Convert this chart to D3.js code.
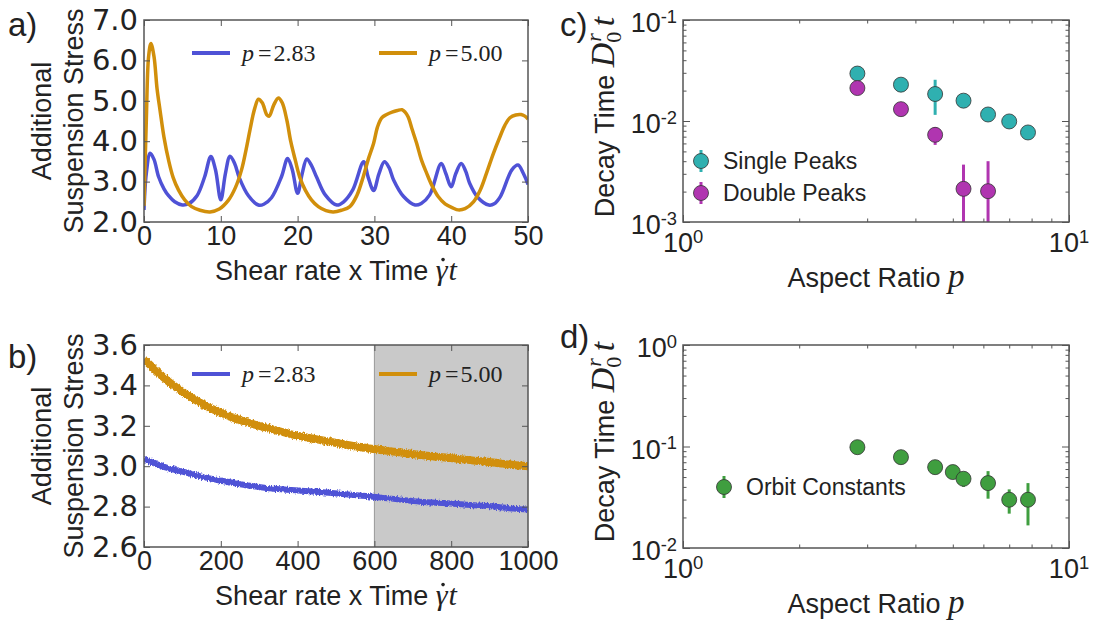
<!DOCTYPE html>
<html><head><meta charset="utf-8">
<script src="https://cdn.jsdelivr.net/npm/d3@7"></script>
<style>body{margin:0;background:#fff}svg{display:block}</style>
</head><body>
<svg id="fig" width="1095" height="626"></svg>
<script>
// ---------- DATA ----------
// Panel a: suspension stress vs shear strain (gamma-dot t)
const seriesA_p283 = [[0,2.3],[0.3,3.2],[0.8,3.70],[1.3,3.55],[1.9,3.12],[2.6,2.82],[3.2,2.65],[4.0,2.5],[5.0,2.42],[5.8,2.45],[6.9,2.65],[7.9,3.12],[8.7,3.62],[9.3,3.3],[10.0,2.55],[10.6,3.2],[11.2,3.63],[11.8,3.45],[12.4,3.1],[13.6,2.65],[14.9,2.42],[15.6,2.44],[16.6,2.6],[17.9,3.12],[18.7,3.57],[19.3,3.3],[20.0,2.71],[20.6,3.2],[21.2,3.56],[21.8,3.4],[22.5,3.1],[23.6,2.67],[25.1,2.42],[26.0,2.5],[27.2,2.8],[28.6,3.49],[29.2,3.1],[29.9,2.78],[30.6,3.2],[31.3,3.49],[31.9,3.35],[32.5,3.04],[33.8,2.63],[35.3,2.42],[36.1,2.46],[37.2,2.67],[38.7,3.45],[39.3,3.2],[40.0,2.87],[40.6,3.2],[41.3,3.45],[41.9,3.25],[42.4,2.96],[43.5,2.6],[44.9,2.42],[45.6,2.45],[46.4,2.63],[47.9,3.29],[48.7,3.41],[49.4,3.2],[50,2.93]];
const seriesA_p500 = [[0,2.4],[0.3,4.5],[0.6,6.1],[0.9,6.42],[1.3,6.1],[1.7,5.3],[2.1,4.75],[2.6,4.1],[3.2,3.53],[3.8,3.1],[4.5,2.79],[5.3,2.55],[6.2,2.38],[7.3,2.29],[8.6,2.25],[9.8,2.32],[11.0,2.54],[11.9,2.85],[12.7,3.29],[13.3,3.8],[13.8,4.28],[14.4,4.8],[14.9,5.04],[15.4,4.95],[16.0,4.65],[16.3,4.62],[16.9,4.9],[17.5,5.07],[18.0,4.95],[18.6,4.52],[19.1,4.0],[19.7,3.53],[20.3,3.1],[21.0,2.79],[21.8,2.55],[22.7,2.38],[23.7,2.28],[24.65,2.25],[25.7,2.29],[26.8,2.38],[27.7,2.65],[28.55,3.12],[29.2,3.55],[29.9,3.95],[30.4,4.35],[30.95,4.58],[31.6,4.66],[32.3,4.72],[33.0,4.76],[33.6,4.78],[34.0,4.72],[34.4,4.6],[34.9,4.3],[35.5,3.95],[36.1,3.55],[36.8,3.21],[37.5,2.9],[38.3,2.63],[39.2,2.45],[40.3,2.34],[40.9,2.3],[41.8,2.33],[42.9,2.5],[43.8,2.8],[44.6,3.21],[45.5,3.7],[46.35,4.11],[47.0,4.4],[47.65,4.58],[48.4,4.65],[49.1,4.66],[49.6,4.62],[50,4.55]];
const ticksA_x = [0,10,20,30,40,50];
const ticksA_y = [2,3,4,5,6,7];

// Panel b: long-time decay
const timeB = [0,63,107,150,202,263,324,393,458,530,597,660,719,790,849,910,962,1000];
const stressB_p500 = [3.53,3.42,3.36,3.31,3.262,3.22,3.188,3.154,3.13,3.105,3.085,3.07,3.055,3.042,3.03,3.018,3.006,3.0];
const stressB_p283 = [3.035,2.99,2.97,2.948,2.928,2.907,2.891,2.881,2.872,2.86,2.849,2.836,2.824,2.816,2.808,2.80,2.79,2.785];
const shadeB = [600,1000];
const ticksB_x = [0,200,400,600,800,1000];
const ticksB_y = [2.6,2.8,3.0,3.2,3.4,3.6];

// Panel c: decay times, single and double peaks
const aspectSingle = [2.83,3.67,4.5,5.33,6.17,7.0,7.83];
const decaySingle  = [0.0295,0.0229,0.0185,0.0159,0.0116,0.0099,0.0077];
const errLoSingle  = [0.0295,0.0229,0.0115,0.0159,0.0116,0.0099,0.0077];
const errHiSingle  = [0.0295,0.0229,0.0256,0.0159,0.0116,0.0099,0.0077];
const aspectDouble = [2.83,3.67,4.5,5.33,6.17];
const decayDouble  = [0.0212,0.0131,0.0073,0.00213,0.00202];
const errLoDouble  = [0.0212,0.0131,0.0058,0.0005,0.0005];
const errHiDouble  = [0.0212,0.0131,0.0087,0.0037,0.0040];

// Panel d: orbit constants
const aspectOrbit = [2.83,3.67,4.5,5.0,5.33,6.17,7.0,7.83];
const decayOrbit  = [0.0985,0.0785,0.0626,0.0560,0.0481,0.0436,0.0299,0.0299];
const errLoOrbit  = [0.0985,0.0760,0.0600,0.0535,0.0400,0.0306,0.0218,0.0167];
const errHiOrbit  = [0.0985,0.0810,0.0650,0.0585,0.0530,0.0572,0.0378,0.0436];

// ---------- STYLE ----------
const SANS = "'Liberation Sans', Arial, Helvetica, sans-serif";
const WIDE = "'DejaVu Sans', 'Liberation Sans', sans-serif";
const SERIF = "'Liberation Serif', 'Times New Roman', serif";
const BLUE = "#4f52d6", ORANGE = "#d18f0b";
const TEAL = "#2fb0b0", MAGENTA = "#b035b0", GREEN = "#3f9e3f";
const SPINE = "#555";
const svg = d3.select("#fig");

// subtle jitter texture for the noisy long-time traces (style only)
const flt = svg.append("defs").append("filter").attr("id","rough").attr("x","-5%").attr("y","-20%").attr("width","110%").attr("height","140%");
flt.append("feTurbulence").attr("type","fractalNoise").attr("baseFrequency","0.9 0.35").attr("numOctaves",2).attr("seed",3).attr("result","n");
flt.append("feDisplacementMap").attr("in","SourceGraphic").attr("in2","n").attr("scale",4).attr("xChannelSelector","R").attr("yChannelSelector","G");

function styleAxis(sel, fam, size){
  sel.select(".domain").remove();
  sel.selectAll(".tick line").attr("stroke", SPINE).attr("stroke-width", 1);
  sel.selectAll(".tick text").attr("font-family", fam || SANS).attr("font-size", size || 26).attr("fill", "#222");
}
function frame(g, w, h){
  g.append("rect").attr("width", w).attr("height", h).attr("fill","none").attr("stroke",SPINE).attr("stroke-width",1.5);
}
function clip(id, w, h){
  svg.append("clipPath").attr("id", id).append("rect").attr("width", w).attr("height", h);
}

// linear panel
function linearPanel(o){
  const g = svg.append("g").attr("transform", `translate(${o.x0},${o.y0})`);
  const x = d3.scaleLinear().domain(o.xd).range([0, o.w]);
  const y = d3.scaleLinear().domain(o.yd).range([o.h, 0]);
  clip(o.id, o.w, o.h);
  const plot = g.append("g").attr("clip-path", `url(#${o.id})`);
  return {g, x, y, plot, finish(){
    g.append("g").attr("transform",`translate(0,${o.h})`)
      .call(d3.axisBottom(x).tickValues(o.xt).tickSizeInner(-6).tickSizeOuter(0).tickPadding(4).tickFormat(o.xf)).call(styleAxis, SANS, 27);
    g.append("g").call(d3.axisTop(x).tickValues(o.xt).tickSizeInner(-6).tickSizeOuter(0).tickFormat("")).call(styleAxis);
    g.append("g").call(d3.axisLeft(y).tickValues(o.yt).tickSizeInner(-6).tickSizeOuter(0).tickPadding(6).tickFormat(o.yf)).call(styleAxis, WIDE, 29);
    g.append("g").attr("transform",`translate(${o.w},0)`)
      .call(d3.axisRight(y).tickValues(o.yt).tickSizeInner(-6).tickSizeOuter(0).tickFormat("")).call(styleAxis);
    frame(g, o.w, o.h);
  }};
}

function decadeMinors(lo, hi){
  const out = [];
  for (let e = lo; e < hi; e++) for (let k = 2; k <= 9; k++) out.push(k * Math.pow(10, e));
  return out;
}
function powLabel(sel, exp){
  sel.text("10");
  sel.append("tspan").attr("dy", "-0.5em").attr("font-size", "0.68em").text(exp);
}

function logPanel(o){
  const g = svg.append("g").attr("transform", `translate(${o.x0},${o.y0})`);
  const x = d3.scaleLog().domain([1,10]).range([0, o.w]);
  const y = d3.scaleLog().domain([o.ylo, o.yhi]).range([o.h, 0]);
  clip(o.id, o.w, o.h);
  const plot = g.append("g").attr("clip-path", `url(#${o.id})`);
  return {g, x, y, plot, finish(){
    const xMaj = [1,10], xMin = decadeMinors(0,1);
    const eLo = Math.round(Math.log10(o.ylo)), eHi = Math.round(Math.log10(o.yhi));
    const yMaj = d3.range(eLo, eHi+1).map(e => Math.pow(10,e)), yMin = decadeMinors(eLo, eHi);
    const mk = (axis, vals, size) => axis.tickValues(vals).tickSizeInner(-size).tickSizeOuter(0).tickFormat("");
    g.append("g").attr("transform",`translate(0,${o.h})`).call(mk(d3.axisBottom(x), xMaj, 7)).call(styleAxis);
    g.append("g").attr("transform",`translate(0,${o.h})`).call(mk(d3.axisBottom(x), xMin, 3.5)).call(styleAxis);
    g.append("g").call(mk(d3.axisTop(x), xMaj, 7)).call(styleAxis);
    g.append("g").call(mk(d3.axisTop(x), xMin, 3.5)).call(styleAxis);
    g.append("g").call(mk(d3.axisLeft(y), yMaj, 7)).call(styleAxis);
    g.append("g").call(mk(d3.axisLeft(y), yMin, 3.5)).call(styleAxis);
    g.append("g").attr("transform",`translate(${o.w},0)`).call(mk(d3.axisRight(y), yMaj, 7)).call(styleAxis);
    g.append("g").attr("transform",`translate(${o.w},0)`).call(mk(d3.axisRight(y), yMin, 3.5)).call(styleAxis);
    // labels
    xMaj.forEach(v => {
      g.append("text").attr("x", x(v)).attr("y", o.h + 30).attr("text-anchor","middle")
        .attr("font-family",SANS).attr("font-size",27).attr("fill","#222")
        .call(s => powLabel(s, String(Math.round(Math.log10(v)))));
    });
    yMaj.forEach(v => {
      g.append("text").attr("x", -6).attr("y", y(v) + 12).attr("text-anchor","end")
        .attr("font-family",SANS).attr("font-size",27).attr("fill","#222")
        .call(s => powLabel(s, String(Math.round(Math.log10(v)))));
    });
    frame(g, o.w, o.h);
  }};
}

function panelLetter(txt, x, y){
  svg.append("text").attr("x", x).attr("y", y).attr("font-family",SANS).attr("font-size",33).attr("fill","#222").text(txt);
}
function xLabelShear(g, w, yb){
  const t = g.append("text").attr("x", w/2).attr("y", yb).attr("text-anchor","middle")
    .attr("font-family",SANS).attr("font-size",27).attr("fill","#222");
  t.append("tspan").text("Shear rate x Time ");
  t.append("tspan").attr("font-family",SERIF).attr("font-style","italic").attr("font-size",30).text("\u03B3");
  t.append("tspan").attr("font-family",SERIF).attr("font-style","italic").attr("font-size",30).attr("dx","1").text("t");
  // the dot of gamma-dot, drawn as a small mark above the gamma glyph
  const idx = "Shear rate x Time ".length;
  const ext = t.node().getExtentOfChar(idx);
  g.append("circle").attr("cx", ext.x + ext.width*0.62).attr("cy", ext.y + ext.height*0.2).attr("r", 1.8).attr("fill","#222");
}
function yLabelStress(g, h){
  const cy = h/2;
  [["Additional", -93], ["Suspension Stress", -61]].forEach(([s, dx]) => {
    g.append("text").attr("transform",`translate(${dx},${cy}) rotate(-90)`).attr("text-anchor","middle")
      .attr("font-family",SANS).attr("font-size",27).attr("fill","#222").text(s);
  });
}
function xLabelAspect(g, w, yb){
  const t = g.append("text").attr("x", w/2).attr("y", yb).attr("text-anchor","middle")
    .attr("font-family",SANS).attr("font-size",27).attr("fill","#222");
  t.append("tspan").text("Aspect Ratio ");
  t.append("tspan").attr("font-family",SERIF).attr("font-style","italic").attr("font-size",33).text("p");
}
function yLabelDecay(g, cy){
  const t = g.append("text").attr("transform",`translate(-69,${cy}) rotate(-90)`).attr("text-anchor","middle")
    .attr("font-family",SANS).attr("font-size",27).attr("fill","#222");
  t.append("tspan").text("Decay Time ");
  t.append("tspan").attr("font-family",SERIF).attr("font-style","italic").attr("font-size",34).text("D");
  t.append("tspan").attr("font-family",SERIF).attr("font-size",22).attr("dy","7").text("0");
  t.append("tspan").attr("font-family",SERIF).attr("font-style","italic").attr("font-size",22).attr("dx","-10").attr("dy","-20").text("r");
  t.append("tspan").attr("font-family",SERIF).attr("font-style","italic").attr("font-size",34).attr("dx","7").attr("dy","13").text("t");
}
function lineLegend(g, items, ly){
  items.forEach(it => {
    g.append("line").attr("x1", it.x1).attr("x2", it.x2).attr("y1", ly).attr("y2", ly)
      .attr("stroke", it.color).attr("stroke-width", 4);
    const t = g.append("text").attr("x", it.tx).attr("y", ly).attr("dy","0.33em")
      .attr("font-family",SERIF).attr("font-size",24).attr("fill","#222");
    t.append("tspan").attr("font-style","italic").text("p");
    t.append("tspan").attr("dx","4").text("=");
    t.append("tspan").attr("dx","2").text(it.val);
  });
}
function errPoints(p, xs, ys, lo, hi, color){
  xs.forEach((v,i) => {
    p.append("line").attr("x1", p.sx(v)).attr("x2", p.sx(v)).attr("y1", p.sy(lo[i])).attr("y2", p.sy(hi[i]))
      .attr("stroke", color).attr("stroke-width", 3);
  });
  xs.forEach((v,i) => {
    p.append("circle").attr("cx", p.sx(v)).attr("cy", p.sy(ys[i])).attr("r", 7.5)
      .attr("fill", color).attr("stroke", "#333").attr("stroke-width", 0.8);
  });
}
function markerLegend(g, mx, my, color, label){
  g.append("line").attr("x1",mx).attr("x2",mx).attr("y1",my-11).attr("y2",my+11).attr("stroke",color).attr("stroke-width",3);
  g.append("circle").attr("cx",mx).attr("cy",my).attr("r",7.5).attr("fill",color).attr("stroke","#333").attr("stroke-width",0.8);
  g.append("text").attr("x", mx+22).attr("y", my).attr("dy","0.35em").attr("font-family",SANS).attr("font-size",23).attr("fill","#222").text(label);
}

// ---------- PANEL a ----------
{
  const P = linearPanel({id:"ca", x0:144, y0:20, w:384, h:202, xd:[0,50], yd:[2,7], xt:ticksA_x, yt:ticksA_y,
    xf: d3.format("d"), yf: d3.format(".1f")});
  const line = d3.line().x(d => P.x(d[0])).y(d => P.y(d[1])).curve(d3.curveCatmullRom.alpha(0.5));
  P.plot.append("path").datum(seriesA_p283).attr("d", line).attr("fill","none").attr("stroke",BLUE).attr("stroke-width",3.5);
  P.plot.append("path").datum(seriesA_p500).attr("d", line).attr("fill","none").attr("stroke",ORANGE).attr("stroke-width",3.5);
  lineLegend(P.g, [{x1:48,x2:86,tx:98,color:BLUE,val:"2.83"},{x1:235,x2:273,tx:285,color:ORANGE,val:"5.00"}], 33);
  P.finish();
  xLabelShear(P.g, 384, 260);
  yLabelStress(P.g, 202);
  panelLetter("a)", 8, 36);
}
// ---------- PANEL b ----------
{
  const P = linearPanel({id:"cb", x0:144, y0:345, w:384, h:202, xd:[0,1000], yd:[2.6,3.6], xt:ticksB_x, yt:ticksB_y,
    xf: d3.format("d"), yf: d3.format(".1f")});
  P.plot.append("rect").attr("x", P.x(shadeB[0])).attr("width", P.x(shadeB[1]) - P.x(shadeB[0]))
    .attr("y", 0).attr("height", 202).attr("fill", "#c9c9c9");
  P.plot.append("line").attr("x1", P.x(shadeB[0])).attr("x2", P.x(shadeB[0])).attr("y1",0).attr("y2",202).attr("stroke","#999").attr("stroke-width",1);
  const line = d3.line().curve(d3.curveMonotoneX);
  const lines = P.plot.append("g").attr("filter","url(#rough)");
  lines.append("path").attr("d", line(timeB.map((t,i) => [P.x(t), P.y(stressB_p500[i])])))
    .attr("fill","none").attr("stroke",ORANGE).attr("stroke-width",8);
  lines.append("path").attr("d", line(timeB.map((t,i) => [P.x(t), P.y(stressB_p283[i])])))
    .attr("fill","none").attr("stroke",BLUE).attr("stroke-width",6);
  lineLegend(P.g, [{x1:48,x2:86,tx:98,color:BLUE,val:"2.83"},{x1:235,x2:273,tx:285,color:ORANGE,val:"5.00"}], 29);
  P.finish();
  xLabelShear(P.g, 384, 260);
  yLabelStress(P.g, 202);
  panelLetter("b)", 8, 368);
}
// ---------- PANEL c ----------
{
  const P = logPanel({id:"cc", x0:683, y0:20, w:386, h:202, ylo:1e-3, yhi:1e-1});
  P.plot.sx = P.x; P.plot.sy = P.y;
  errPoints(P.plot, aspectSingle, decaySingle, errLoSingle, errHiSingle, TEAL);
  errPoints(P.plot, aspectDouble, decayDouble, errLoDouble, errHiDouble, MAGENTA);
  markerLegend(P.g, 18, 141, TEAL, "Single Peaks");
  markerLegend(P.g, 18, 173, MAGENTA, "Double Peaks");
  P.finish();
  xLabelAspect(P.g, 386, 267);
  yLabelDecay(P.g, 97);
  panelLetter("c)", 560, 36);
}
// ---------- PANEL d ----------
{
  const P = logPanel({id:"cd", x0:683, y0:345, w:386, h:203, ylo:1e-2, yhi:1e0});
  P.plot.sx = P.x; P.plot.sy = P.y;
  errPoints(P.plot, aspectOrbit, decayOrbit, errLoOrbit, errHiOrbit, GREEN);
  markerLegend(P.g, 41, 142, GREEN, "Orbit Constants");
  P.finish();
  xLabelAspect(P.g, 386, 268);
  yLabelDecay(P.g, 97);
  panelLetter("d)", 560, 348);
}
</script>
</body></html>
